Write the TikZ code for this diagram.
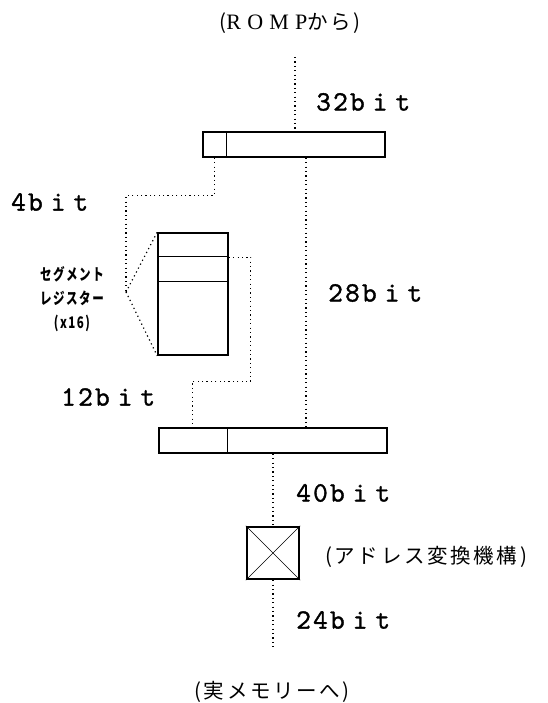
\documentclass[tikz,border=0pt]{standalone}
\usepackage{fontspec}
\setmainfont{Liberation Serif}
\newfontfamily\jpfont{Noto Sans CJK JP}[LetterSpace=13]
\newfontfamily\romfont{Liberation Serif}[LetterSpace=28]
\newfontfamily\bitfont{lmmono10-regular}[Extension=.otf, LetterSpace=8, FakeBold=1.2]
\newcommand{\bitwidth}[1]{#1b\hspace{8pt}i\hspace{8pt}t}

\begin{document}
\begin{tikzpicture}[x=1pt, y=-1pt,
    regbox/.style={draw, line width=1.6pt, minimum height=25pt, inner sep=0pt},
    wire/.style={line width=1.2pt, dash pattern=on 1.2pt off 3.2pt},
    bitlabel/.style={anchor=west, inner sep=0pt, font=\bitfont\fontsize{28}{30}\selectfont},
    jplabel/.style={inner sep=0pt, font=\jpfont\fontsize{20.5}{24}\selectfont}]
  \useasboundingbox (0,0) rectangle (547,703);

  % Virtual address register (32 bit)
  \node[regbox, minimum width=182pt] (vaddr) at (294,144.5) {};
  \draw[thin] ([xshift=24pt]vaddr.north west) -- ([xshift=24pt]vaddr.south west);

  % Segment registers
  \node[regbox, minimum width=70pt, minimum height=122pt] (segreg) at (193,294) {};
  \draw[thin] ([yshift=-24pt]segreg.north west) -- ([yshift=-24pt]segreg.north east);
  \draw[thin] ([yshift=-49pt]segreg.north west) -- ([yshift=-49pt]segreg.north east);

  % Linear address register (40 bit)
  \node[regbox, minimum width=228pt] (laddr) at (273,440.5) {};
  \draw[thin] ([xshift=69pt]laddr.north west) -- ([xshift=69pt]laddr.south west);

  % Address translation unit
  \node[draw, line width=2.4pt, minimum size=52pt, inner sep=0pt] (xlat) at (273,553) {};
  \draw[thin] (xlat.north west) -- (xlat.south east) (xlat.north east) -- (xlat.south west);

  % Free ends
  \coordinate (romp) at (295,57);
  \coordinate (mem) at (273,650);
  \coordinate (fan) at (126,292);

  % Wires
  \draw[wire] (romp) -- (romp |- vaddr.north);
  \draw[wire] ([xshift=12pt]vaddr.south west) -- ++(0,38) -| (fan);
  \draw[wire] (fan) -- (segreg.north west) (fan) -- (segreg.south west);
  \draw[wire] ([yshift=-25pt]segreg.north east) -- ++(22,0) -- ++(0,124) -| ([xshift=34pt]laddr.north west);
  \draw[wire] ([xshift=12pt]vaddr.south) -- ([xshift=12pt]vaddr.south |- laddr.north);
  \draw[wire] (laddr.south) -- (xlat.north);
  \draw[wire] (xlat.south) -- (mem);

  % Labels
  \node[jplabel] (src) at (290,23) {({\romfont\fontsize{22}{24}\selectfont ROMP}から)};
  \node[bitlabel] (w32) at (316,102) {\bitwidth{32}};
  \node[bitlabel] (w4) at (11,202) {\bitwidth{4}};
  \node[bitlabel] (w28) at (328,293) {\bitwidth{28}};
  \node[bitlabel] (w12) at (61,397) {\bitwidth{12}};
  \node[bitlabel] (w40) at (296,493) {\bitwidth{40}};
  \node[bitlabel] (w24) at (296,620) {\bitwidth{24}};
  \node[jplabel, anchor=west] (xlatname) at (325,557) {(アドレス変換機構)};
  \node[jplabel] (dst) at (272,692) {(実メモリーへ)};
  \node[jplabel, font=\jpfont\bfseries\fontsize{16}{24}\selectfont, align=center, xscale=0.72] (segname) at (72,299) {セグメント\\レジスター\\(x16)};
\end{tikzpicture}
\end{document}
